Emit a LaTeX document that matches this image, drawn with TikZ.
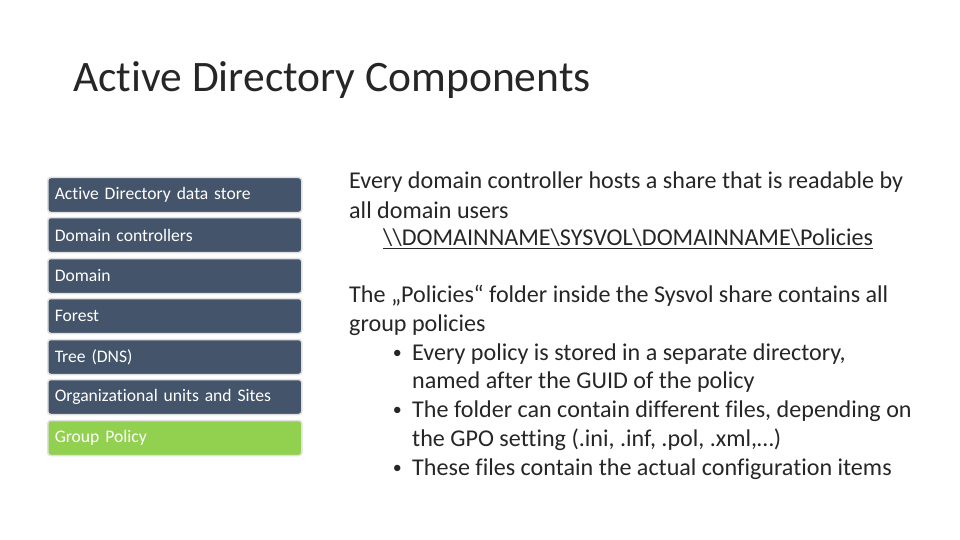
\documentclass[tikz,border=0pt]{standalone}
\usepackage{fontspec}
\setmainfont[Ligatures=CommonOff]{Carlito}
\begin{document}
\begin{tikzpicture}[x=1pt,y=-1pt,
  item/.style={draw=white!88!black,line width=1.5pt,rounded corners=3pt,fill=itemcol,
    minimum width=254pt,minimum height=35pt,anchor=west,inner xsep=6pt,
    text=white,font=\fontsize{17.6}{20}\selectfont,text width=240pt},
  body/.style={anchor=west,inner sep=0pt,font=\fontsize{24.1}{28}\selectfont,text=black!85}]
\definecolor{itemcol}{RGB}{68,84,106}
\definecolor{greencol}{RGB}{146,208,80}
\useasboundingbox (0,0) rectangle (960,540);
% title
\node[anchor=west,inner sep=0pt,font=\fontsize{43.5}{50}\selectfont,text=black!85] (title) at (73,80) {Active Directory Components};
% left list
\node[item] (store) at (47,195) {Active Directory data store};
\node[item] (dc) at (47,235) {Domain controllers};
\node[item] (domain) at (47,276) {Domain};
\node[item] (forest) at (47,316) {Forest};
\node[item] (tree) at (47,357) {Tree (DNS)};
\node[item] (ou) at (47,397) {Organizational units and Sites};
\node[item,fill=greencol] (gpo) at (47,438) {Group Policy};
% right text
\node[body] (t1) at (349,182) {Every domain controller hosts a share that is readable by};
\node[body] (t2) at (349,210) {all domain users};
\node[body] (t3) at (383,239) {\underline{\textbackslash\textbackslash DOMAINNAME\textbackslash SYSVOL\textbackslash DOMAINNAME\textbackslash Policies}};
\node[body] (t4) at (349,296) {The „Policies“ folder inside the Sysvol share contains all};
\node[body] (t5) at (349,325) {group policies};
\node[body] (t6) at (412,354) {Every policy is stored in a separate directory,};
\node[body] (t7) at (412,382) {named after the GUID of the policy};
\node[body] (t8) at (412,411) {The folder can contain different files, depending on};
\node[body] (t9) at (412,440) {the GPO setting (.ini, .inf, .pol, .xml,…)};
\node[body] (t10) at (412,469) {These files contain the actual configuration items};
\foreach \n in {t6,t8,t10}
  \node[body,anchor=east,font=\fontsize{18}{20}\selectfont] at ([xshift=-10pt]\n.west) {•};
\end{tikzpicture}
\end{document}
